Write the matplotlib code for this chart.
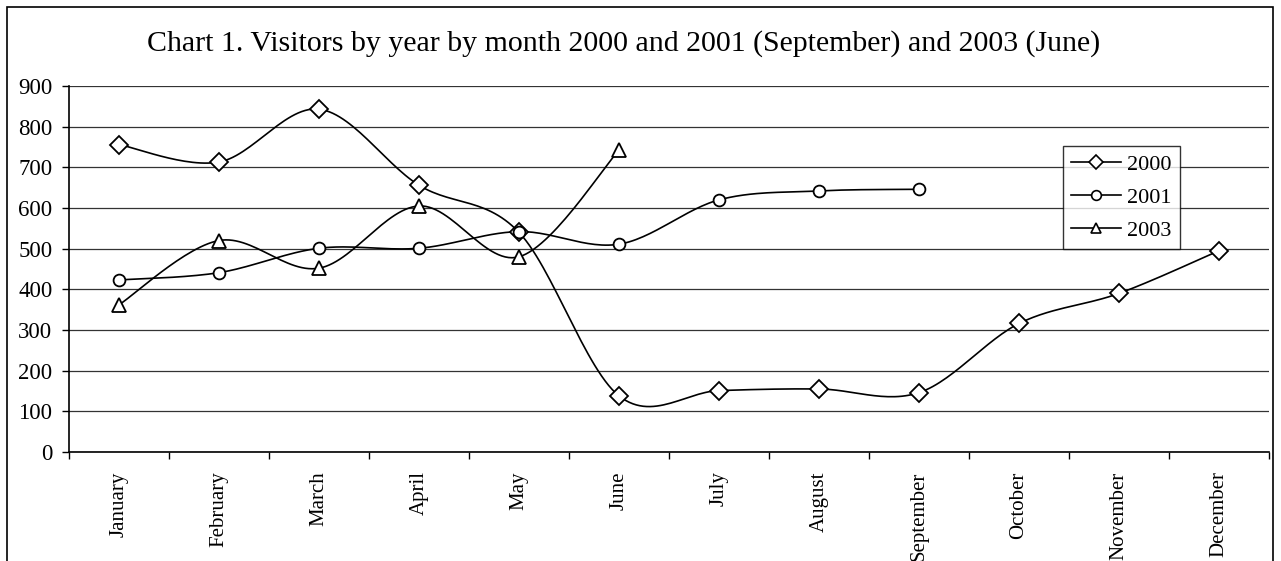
import numpy as np
import matplotlib
matplotlib.use("Agg")
import matplotlib.pyplot as plt
from matplotlib.lines import Line2D
from matplotlib.patches import Rectangle

months = ["January", "February", "March", "April", "May", "June", "July",
          "August", "September", "October", "November", "December"]
v2000 = [756, 713, 843, 656, 540, 138, 151, 155, 146, 316, 390, 495]
v2001 = [423, 441, 501, 501, 542, 511, 620, 642, 646]
v2003 = [362, 520, 452, 605, 480, 742]
series_names = ["2000", "2001", "2003"]
title = "Chart 1. Visitors by year by month 2000 and 2001 (September) and 2003 (June)"
yticks = list(range(0, 1000, 100))

W, H = 1281, 561
plt.rcParams["font.family"] = ["Liberation Serif", "DejaVu Serif"]

fig = plt.figure(figsize=(W / 100, H / 100), dpi=100)
ax = fig.add_axes([69 / W, 1 - 452 / H, 1200 / W, (452 - 86) / H])


def smooth(xs, ys, n=30):
    p = np.column_stack([xs, ys]).astype(float)
    ext = np.vstack([p[0], p, p[-1]])
    out = [p[0]]
    t = np.linspace(0, 1, n)[1:, None]
    for i in range(1, len(ext) - 2):
        p0, p1, p2, p3 = ext[i - 1], ext[i], ext[i + 1], ext[i + 2]
        b1 = p1 + (p2 - p0) / 6.0
        b2 = p2 - (p3 - p1) / 6.0
        seg = ((1 - t) ** 3) * p1 + 3 * ((1 - t) ** 2) * t * b1 + 3 * (1 - t) * t ** 2 * b2 + t ** 3 * p2
        out.extend(seg)
    out = np.array(out)
    return out[:, 0], out[:, 1]


markers = ["D", "o", "^"]
msizes = [9, 8.5, 9.5]
for vals, m, ms in zip([v2000, v2001, v2003], markers, msizes):
    x = np.arange(len(vals))
    sx, sy = smooth(x, vals)
    ax.plot(sx, sy, color="black", lw=1.2, zorder=3, solid_joinstyle="round")
    ax.plot(x, vals, linestyle="none", marker=m, ms=ms, mfc="white",
            mec="black", mew=1.3, zorder=4)

ax.set_xlim(-0.5, len(months) - 0.5)
ax.set_ylim(0, 900)
ax.set_yticks(yticks)
ax.set_yticklabels([str(v) for v in yticks], fontsize=16.5)
ax.yaxis.grid(True, color="#333333", lw=0.9)
ax.set_axisbelow(True)

ax.set_xticks(np.arange(len(months)))
ax.set_xticklabels(months, rotation=90, fontsize=15, va="top", ha="center")
ax.set_xticks(np.arange(len(months) + 1) - 0.5, minor=True)
ax.tick_params(axis="x", which="major", length=0, pad=14)
ax.tick_params(axis="x", which="minor", length=5, width=1, direction="out")
ax.tick_params(axis="y", which="major", length=5, width=1, direction="out", pad=7)

for s in ["top", "right"]:
    ax.spines[s].set_visible(False)
for s in ["left", "bottom"]:
    ax.spines[s].set_linewidth(1.2)

fig.text(624 / W, 1 - 44 / H, title, fontsize=21.5, ha="center", va="center")

handles = [Line2D([], [], color="black", lw=1.2, marker=m, ms=7, mfc="white",
                  mec="black", mew=1.2) for m in markers]
leg = fig.legend(handles, series_names, loc="upper left",
                 bbox_to_anchor=(1063 / W, 1 - 146 / H), borderaxespad=0,
                 fontsize=16, frameon=True, fancybox=False, edgecolor="black",
                 handlelength=2.25, handletextpad=0.25, borderpad=0.38,
                 labelspacing=0.55)
leg.get_frame().set_linewidth(1.0)

fig.patches.append(Rectangle((7 / W, -0.1), (1273 - 7) / W, 1 - 7 / H + 0.1,
                             transform=fig.transFigure, fill=False,
                             edgecolor="black", lw=1.2))

fig.savefig("out.png", dpi=100)
